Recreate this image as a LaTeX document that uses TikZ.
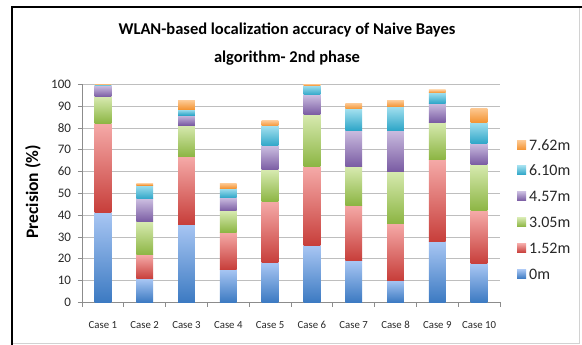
\documentclass[tikz,border=0pt]{standalone}
\usepackage{fontspec}
\setmainfont{Carlito}
\usetikzlibrary{positioning}
\definecolor{xltext}{RGB}{40,40,40}
\definecolor{xlgrid}{RGB}{190,190,190}
\definecolor{xlaxis}{RGB}{140,140,140}
\definecolor{xlframe}{RGB}{210,210,210}
\tikzset{
  barblue/.style={top color={rgb,255:red,168;green,198;blue,243}, bottom color={rgb,255:red,60;green,122;blue,194}},
  barred/.style={top color={rgb,255:red,245;green,170;blue,168}, bottom color={rgb,255:red,199;green,62;blue,58}},
  bargreen/.style={top color={rgb,255:red,215;green,234;blue,176}, bottom color={rgb,255:red,140;green,181;blue,67}},
  barpurple/.style={top color={rgb,255:red,203;green,189;blue,224}, bottom color={rgb,255:red,122;green,92;blue,163}},
  barcyan/.style={top color={rgb,255:red,163;green,224;blue,239}, bottom color={rgb,255:red,47;green,166;blue,200}},
  barorange/.style={top color={rgb,255:red,253;green,200;blue,145}, bottom color={rgb,255:red,243;green,148;blue,51}},
  gridline/.style={draw=xlgrid, line width=0.8pt},
  axisline/.style={draw=xlaxis, line width=0.8pt},
  ticklabel/.style={font=\fontsize{13}{15}\selectfont, text=xltext, anchor=east, inner sep=0pt},
  caselabel/.style={font=\fontsize{10.8}{12}\selectfont, text=xltext, inner sep=0pt},
  legendlabel/.style={font=\fontsize{16}{18}\selectfont, text=xltext, anchor=west, inner sep=0pt},
  legendkey/.style={minimum size=9pt, inner sep=0pt},
  charttitle/.style={font=\bfseries\fontsize{16.5}{28}\selectfont, text=black, align=center},
  axistitle/.style={font=\bfseries\fontsize{17.5}{19}\selectfont, text=black, rotate=90},
}

\begin{document}
\begin{tikzpicture}[x=1pt, y=-1pt]
\useasboundingbox (0,0) rectangle (582,345);

% ================= frame =================
\draw[xlframe, line width=1pt] (579,7) -- (579,343) -- (12,343);
\draw[black, line width=2pt] (12,345) -- (12,7) -- (582,7);

% ================= titles =================
\node[charttitle] (title) at (287,44) {WLAN-based localization accuracy of Naive Bayes\\algorithm- 2nd phase};
\node[axistitle] (ytitle) at (33,192) {Precision (\%)};

% ================= plot area =================
\begin{scope}[shift={(82,302.3)}, x=41.8pt, y=2.18pt]
  % grid and y axis
  \foreach \v in {10,20,...,100}
    \draw[gridline] (0,\v) -- (10,\v);
  \draw[axisline] (0,0) -- (0,100);
  \foreach \v in {0,10,...,100} {
    \draw[axisline] (-0.1,\v) -- (0,\v);
    \node[ticklabel] (yl\v) at (-0.26,\v) {\v};
  }
  % x axis
  \draw[axisline] (0,0) -- (10,0);
  \foreach \i in {0,...,10}
    \draw[axisline] (\i,0) -- (\i,-2.3);

  % stacked bars (cumulative tops: 0m, 1.52m, 3.05m, 4.57m, 6.10m, 7.62m)
  \foreach \i/\a/\b/\c/\d/\e/\f in {
      1/41.2/82.1/94.3/99.3/100/100.2,
      2/10.7/21.7/37.0/47.4/53.8/54.6,
      3/35.9/66.8/81.3/85.9/88.5/92.5,
      4/15.1/32.1/41.9/48.0/52.3/54.6,
      5/18.2/46.2/60.7/71.7/80.9/83.3,
      6/26.0/62.2/86.2/95.1/99.5/100.2,
      7/19.1/44.6/62.2/79.0/88.7/91.3,
      8/10.2/36.2/60.2/79.0/89.8/92.5,
      9/27.8/65.6/82.6/91.3/96.2/97.4,
      10/17.6/41.9/63.3/72.9/82.6/89.0} {
    \foreach \lo/\hi/\sty in {0/\a/barblue, \a/\b/barred, \b/\c/bargreen,
                              \c/\d/barpurple, \d/\e/barcyan, \e/\f/barorange}
      \path[\sty] (\i-0.7,\lo) rectangle (\i-0.3,\hi);
    \node[caselabel] (case\i) at (\i-0.5,-10.5) {Case \i};
  }
\end{scope}

% ================= legend =================
\foreach \k/\lab/\sty [count=\n] in {145/7.62m/barorange, 170/6.10m/barcyan, 196/4.57m/barpurple,
                                     222/3.05m/bargreen, 248/1.52m/barred, 274/0m/barblue} {
  \node[legendkey, \sty] (key\n) at (521.5,\k) {};
  \node[legendlabel] (leg\n) at (529,\k) {\lab};
}
\end{tikzpicture}
\end{document}
